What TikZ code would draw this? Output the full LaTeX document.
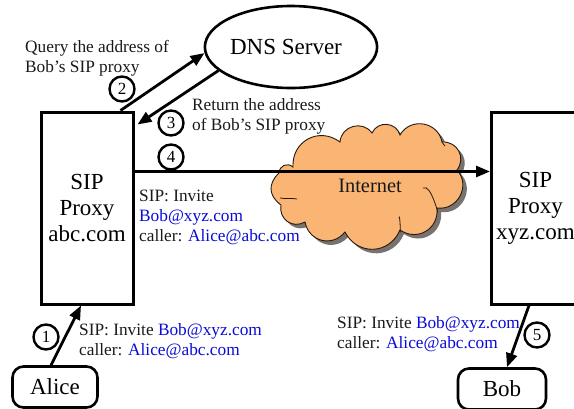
\documentclass[tikz,border=0pt]{standalone}
\usepackage{fontspec}
\setmainfont{Liberation Serif}
\usetikzlibrary{arrows.meta,shapes.geometric,calc}
\definecolor{linkblue}{RGB}{10,10,215}
\definecolor{cloudfill}{RGB}{250,180,115}
\definecolor{cloudshadow}{RGB}{120,115,110}
\definecolor{inktext}{RGB}{25,25,25}
\newcommand{\lnk}[1]{\textcolor{linkblue}{#1}}
\tikzset{
  proxybox/.style={draw=black,line width=3pt,fill=white,align=center,font=\fontsize{23}{26}\selectfont,inner sep=0pt},
  userbox/.style={draw=black,line width=2.6pt,rounded corners=11pt,fill=white,inner sep=0pt,font=\fontsize{23}{26}\selectfont},
  stepnum/.style={draw=black,circle,line width=2.4pt,minimum size=25pt,inner sep=0pt,fill=white,font=\fontsize{17}{17}\selectfont},
  msg/.style={align=left,inner sep=0pt,anchor=west,font=\fontsize{17.3}{20}\selectfont,text=inktext},
  flow/.style={draw=black,line width=2.8pt,-{Triangle[length=14pt,width=11pt]}},
  lobe/.style={bend left=#1,looseness=1.25},
}
\begin{document}
\begin{tikzpicture}[x=1pt,y=-1pt]
\useasboundingbox (0,0) rectangle (574,408);
\clip (0,0) rectangle (574,408);
\def\cloudpath{(293,167)
  to[lobe=65] (340,142)
  to[lobe=70] (372,133)
  to[lobe=70] (400,135)
  to[lobe=70] (442,142)
  to[lobe=65] (457,170)
  to[lobe=70] (437,208)
  to[lobe=65] (400,230)
  to[lobe=65] (345,232)
  to[lobe=65] (305,222)
  to[lobe=65] (281,205)
  to[lobe=50] (279,173)
  to[lobe=65] (293,167) -- cycle}
\fill[cloudshadow,shift={(4,4)}] \cloudpath;
\filldraw[fill=cloudfill,draw=black!80!brown,line width=0.9pt] \cloudpath;
\draw[black!80!brown,line width=0.8pt]
  (280,198) to[out=-10,in=170] (297,199)
  (400,230) to[out=-80,in=80] (399,218)
  (437,208) to[out=-80,in=30] (423,188)
  (442,142) to[out=-40,in=150] (445,146);
\node[font=\fontsize{20.4}{22}\selectfont,text=inktext,inner sep=0pt] (inet) at (370,186) {Internet};

\node[proxybox,minimum width=92pt,minimum height=192pt] (lp) at (87,208) {SIP\\Proxy\\abc.com};
\node[proxybox,minimum width=88pt,minimum height=192pt,anchor=west] (rp) at (490,208) {SIP\\Proxy\\xyz.com};
\node[draw=black,line width=2.6pt,ellipse,fill=white,minimum width=170pt,minimum height=82pt,inner sep=0pt,font=\fontsize{23}{26}\selectfont] (dns) at (291,47) {DNS Server\hspace*{10pt}};
\node[userbox,minimum width=85pt,minimum height=41pt] (alice) at (55,387) {Alice};
\node[userbox,minimum width=88pt,minimum height=41pt] (bob) at (502,389) {Bob};

\coordinate (a2) at ($(lp.north east)+(-14,0)$);
\coordinate (a3) at ($(lp.north east)+(3,14)$);
\coordinate (a4) at ($(lp.north east)+(0,61)$);
\coordinate (b4) at (rp.west |- a4);
\coordinate (a1s) at ($(alice.north)+(-4,0)$);
\coordinate (a1e) at ($(lp.south)+(-6,0)$);
\coordinate (a5s) at ($(rp.south west)+(39,0)$);
\coordinate (a5e) at ($(bob.north)+(5,0)$);

\draw[flow] (a2) -- (dns.184);
\draw[flow] (dns.198) -- (a3);
\draw[flow] (a4) -- (b4);
\draw[flow] (a1s) -- (a1e);
\draw[flow] (a5s) -- (a5e);

\node[stepnum] (s1) at (46,337) {1};
\node[stepnum] (s2) at (122,89) {2};
\node[stepnum] (s3) at (171,123) {3};
\node[stepnum] (s4) at (171,157) {4};
\node[stepnum] (s5) at (537,335) {5};

\node[msg] (q) at (25,58) {Query the address of\\Bob's SIP proxy};
\node[msg] (r) at (192,116) {Return the address\\of Bob's SIP proxy};
\node[msg] (m4) at (139,217) {SIP: Invite\\\lnk{Bob@xyz.com}\\caller: \lnk{Alice@abc.com}};
\node[msg] (m1) at (79,341) {SIP: Invite \lnk{Bob@xyz.com}\\caller: \lnk{Alice@abc.com}};
\node[msg] (m5) at (337,334) {SIP: Invite \lnk{Bob@xyz.com}\\caller: \lnk{Alice@abc.com}};
\end{tikzpicture}
\end{document}
